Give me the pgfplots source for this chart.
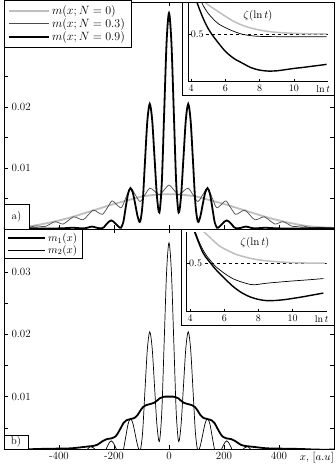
\documentclass[border=0pt]{standalone}
\usepackage{pgfplots}
\pgfplotsset{compat=1.18}
\definecolor{lgray}{gray}{0.75}
\definecolor{mgray}{gray}{0.3}

\pgfplotsset{
  mainax/.style={scale only axis,width=330pt,xmin=-600,xmax=600,
    xtick={-400,-200,0,200,400},scaled y ticks=false,scaled x ticks=false,
    minor ytick={0.005,0.015,0.025,0.035},
    major tick length=4pt,minor tick length=4pt,
    tick style={black,line width=0.5pt},
    axis line style={line width=0.8pt},
    yticklabel style={anchor=west,xshift=4pt,font=\fontsize{11}{13}\selectfont},
    xticklabel style={font=\fontsize{11}{13}\selectfont},
    legend cell align=left,
    legend style={anchor=north west,draw=black,line width=0.6pt}},
  legA/.style={legend image code/.code={\draw[##1] (0pt,0pt) -- (40pt,0pt);},
    legend style={font=\fontsize{12}{14}\selectfont,at={(0,1.008)},
      row sep=-1.5pt,inner xsep=4pt,inner ysep=3pt}},
  legB/.style={legend image code/.code={\draw[##1] (0pt,0pt) -- (37pt,0pt);},
    legend style={font=\fontsize{11}{13}\selectfont,at={(0,1)},
      row sep=-2pt,inner xsep=3pt,inner ysep=2pt}},
  insetax/.style={scale only axis,width=140pt,ymin=0,ymax=0.83,xmax=12,
    axis x line*=bottom,axis y line*=left,axis line style={-,line width=0.7pt},
    xtick={4,6,8,10},ytick={0.5},major tick length=3pt,
    tick style={black,line width=0.5pt},
    extra x ticks={11.7},extra x tick labels={$\ln t$},
    extra x tick style={major tick length=0pt},
    xticklabel style={font=\fontsize{10}{11}\selectfont},
    yticklabel style={anchor=west,xshift=-1pt,font=\fontsize{10}{11}\selectfont}}
}

\begin{document}
\begin{tikzpicture}
\useasboundingbox (0,0) rectangle (336pt,475pt);

% ---------- panel a ----------
\begin{axis}[mainax,legA,at={(4pt,246pt)},anchor=south west,height=227pt,
  ymin=0,ymax=0.0372,xticklabels={},ytick={0.01,0.02},yticklabels={0.01,0.02},
  minor ytick={0.005,0.015,0.025,0.03,0.035}]
\addplot[lgray,line width=1.8pt,smooth] coordinates {
(-600,0.0002) (-550,0.0003) (-500,0.0005) (-450,0.0009) (-400,0.0014) (-350,0.0020)
(-300,0.0027) (-250,0.0034) (-200,0.0041) (-150,0.0047) (-100,0.0053) (-50,0.0056)
(0,0.0057) (50,0.0056) (100,0.0053) (150,0.0047) (200,0.0041) (250,0.0034)
(300,0.0027) (350,0.0020) (400,0.0014) (450,0.0009) (500,0.0005) (550,0.0003) (600,0.0002)};
\addlegendentry{$m(x;N=0)$}
\addplot[mgray,line width=0.7pt,smooth] coordinates {
(-600,0.0001) (-580,0.00015) (-555,0.00025) (-540,0.00025) (-522,0.0002) (-505,0.0003)
(-487,0.0005) (-469,0.00045) (-451,0.0004) (-433,0.0008) (-415,0.0012) (-400,0.0010)
(-385,0.0008) (-366,0.0014) (-347,0.0020) (-330,0.00175) (-312,0.0015) (-294,0.0023)
(-276,0.0031) (-259,0.00275) (-242,0.0024) (-224,0.0035) (-207,0.0046) (-190,0.0040)
(-173,0.0035) (-157,0.0051) (-140,0.0067) (-122.5,0.0056) (-105,0.0045) (-87.5,0.0056)
(-70,0.0067) (-52.5,0.0062) (-35,0.0056) (-17.5,0.0064) (0,0.0072)
(17.5,0.0064) (35,0.0056) (52.5,0.0062) (70,0.0067) (87.5,0.0056) (105,0.0045)
(122.5,0.0056) (140,0.0067) (157,0.0051) (173,0.0035) (190,0.0040) (207,0.0046)
(224,0.0035) (242,0.0024) (259,0.00275) (276,0.0031) (294,0.0023) (312,0.0015)
(330,0.00175) (347,0.0020) (366,0.0014) (385,0.0008) (400,0.0010) (415,0.0012)
(433,0.0008) (451,0.0004) (469,0.00045) (487,0.0005) (505,0.0003) (522,0.0002)
(540,0.00025) (555,0.00025) (580,0.00015) (600,0.0001)};
\addlegendentry{$m(x;N=0.3)$}
\addplot[black,line width=1.8pt,smooth] coordinates {
(-600,0.0001) (-500,0.0001) (-400,0.0001) (-350,0.0002) (-315,0.0001) (-297.5,0.0002)
(-280,0.0004) (-262.5,0.0002) (-245,0.0001) (-236.25,0.0003) (-227.5,0.0008)
(-218.75,0.0012) (-210,0.0014) (-201.25,0.0012) (-192.5,0.0008) (-183.75,0.0004)
(-175,0.0002) (-166.25,0.0011) (-157.5,0.0035) (-148.75,0.0058) (-140,0.0067)
(-131.25,0.0059) (-122.5,0.0040) (-113.75,0.0020) (-105,0.0012) (-96.25,0.0040)
(-87.5,0.0109) (-78.75,0.0177) (-70,0.0205) (-61.25,0.0179) (-52.5,0.0116)
(-43.75,0.0053) (-35,0.0027) (-26.25,0.0075) (-17.5,0.0191) (-8.75,0.0306) (0,0.0354)
(8.75,0.0306) (17.5,0.0191) (26.25,0.0075) (35,0.0027) (43.75,0.0053) (52.5,0.0116)
(61.25,0.0179) (70,0.0205) (78.75,0.0177) (87.5,0.0109) (96.25,0.0040) (105,0.0012)
(113.75,0.0020) (122.5,0.0040) (131.25,0.0059) (140,0.0067) (148.75,0.0058)
(157.5,0.0035) (166.25,0.0011) (175,0.0002) (183.75,0.0004) (192.5,0.0008)
(201.25,0.0012) (210,0.0014) (218.75,0.0012) (227.5,0.0008) (236.25,0.0003)
(245,0.0001) (262.5,0.0002) (280,0.0004) (297.5,0.0002) (315,0.0001) (350,0.0002)
(400,0.0001) (500,0.0001) (600,0.0001)};
\addlegendentry{$m(x;N=0.9)$}
\end{axis}
\draw[line width=0.6pt,fill=white] (4pt,246pt) rectangle (29pt,271pt);
\node[font=\fontsize{11}{13}\selectfont] at (16.5pt,258.5pt) {a)};

% ---------- panel b ----------
\begin{axis}[mainax,legB,at={(4pt,26pt)},anchor=south west,height=220pt,
  ymin=0.0016,ymax=0.0369,xticklabels={-400,-200,0,200,400},
  ytick={0.01,0.02,0.03},yticklabels={0.01,0.02,0.03}]
\addplot[black,line width=1.8pt,smooth] coordinates {
(-600,0.0015) (-540,0.0015) (-480,0.0016) (-420,0.00165) (-360,0.0017) (-335,0.0018)
(-315,0.0019) (-295,0.0020) (-275,0.0021) (-260,0.0023) (-250,0.0026) (-240,0.0029)
(-225,0.0032) (-210,0.0033) (-195,0.0036) (-185,0.0042) (-175,0.0050) (-165,0.0058)
(-155,0.0062) (-140,0.0064) (-125,0.0066) (-115,0.0070) (-105,0.0077) (-95,0.0083)
(-85,0.0086) (-70,0.0088) (-55,0.0090) (-45,0.0093) (-35,0.0097) (-25,0.0099)
(-15,0.0100) (0,0.0100) (15,0.0100) (25,0.0099) (35,0.0097) (45,0.0093) (55,0.0090)
(70,0.0088) (85,0.0086) (95,0.0083) (105,0.0077) (115,0.0070) (125,0.0066) (140,0.0064)
(155,0.0062) (165,0.0058) (175,0.0050) (185,0.0042) (195,0.0036) (210,0.0033)
(225,0.0032) (240,0.0029) (250,0.0026) (260,0.0023) (275,0.0021) (295,0.0020)
(315,0.0019) (335,0.0018) (360,0.0017) (420,0.00165) (480,0.0016) (540,0.0015) (600,0.0015)};
\addlegendentry{$m_1(x)$}
\addplot[black,line width=0.7pt,smooth] coordinates {
(-600,0.0008) (-400,0.0008) (-330,0.0008) (-305,0.0012) (-285,0.0020) (-265,0.0014)
(-245,0.0005) (-236.25,0.0009) (-227.5,0.0017) (-218.75,0.0025) (-210,0.0029)
(-201.25,0.0025) (-192.5,0.0017) (-183.75,0.0009) (-175,0.0005) (-166.25,0.0014)
(-157.5,0.0035) (-148.75,0.0056) (-140,0.0065) (-131.25,0.0057) (-122.5,0.0039)
(-113.75,0.0021) (-105,0.0013) (-96.25,0.0041) (-87.5,0.0109) (-78.75,0.0176)
(-70,0.0204) (-61.25,0.0178) (-52.5,0.0116) (-43.75,0.0054) (-35,0.0028)
(-26.25,0.0075) (-17.5,0.0188) (-8.75,0.0300) (0,0.0347) (8.75,0.0300) (17.5,0.0188)
(26.25,0.0075) (35,0.0028) (43.75,0.0054) (52.5,0.0116) (61.25,0.0178) (70,0.0204)
(78.75,0.0176) (87.5,0.0109) (96.25,0.0041) (105,0.0013) (113.75,0.0021) (122.5,0.0039)
(131.25,0.0057) (140,0.0065) (148.75,0.0056) (157.5,0.0035) (166.25,0.0014) (175,0.0005)
(183.75,0.0009) (192.5,0.0017) (201.25,0.0025) (210,0.0029) (218.75,0.0025)
(227.5,0.0017) (236.25,0.0009) (245,0.0005) (265,0.0014) (285,0.0020) (305,0.0012)
(330,0.0008) (400,0.0008) (600,0.0008)};
\addlegendentry{$m_2(x)$}
\end{axis}
\draw[line width=0.6pt,fill=white] (4pt,26pt) rectangle (28pt,40pt);
\node[font=\fontsize{11}{13}\selectfont] at (16pt,33pt) {b)};
\node[anchor=base east,font=\fontsize{10.5}{12}\selectfont,inner sep=1pt] at (335pt,14pt) {$x$, $[a.u]$};

% ---------- inset a ----------
\draw[line width=0.7pt,fill=white] (182pt,380pt) rectangle (334pt,473pt);
\begin{axis}[insetax,at={(188.3pt,393.3pt)},anchor=south west,height=78.7pt,xmin=3.84]
\addplot[black,dashed,line width=0.6pt] coordinates {(4.9,0.5) (12,0.5)};
\addplot[lgray,line width=1.5pt,smooth] coordinates {
(4.7,0.86) (5,0.81) (5.5,0.75) (6,0.69) (6.5,0.635) (7,0.595) (7.5,0.565) (8,0.545)
(8.5,0.53) (9,0.52) (10,0.51) (11,0.505) (11.9,0.505)};
\addplot[black,line width=0.7pt,smooth] coordinates {
(4.55,0.86) (4.75,0.79) (5,0.72) (5.3,0.66) (5.6,0.61) (6,0.57) (6.5,0.53) (7,0.50)
(7.5,0.485) (8,0.478) (9,0.475) (10,0.475) (11,0.475) (11.9,0.475)};
\addplot[black,line width=1.4pt,smooth] coordinates {
(4.3,0.86) (4.5,0.76) (4.75,0.65) (5,0.56) (5.25,0.49) (5.5,0.43) (6,0.32) (6.5,0.245)
(7,0.195) (7.5,0.148) (8,0.122) (8.5,0.112) (9,0.115) (9.5,0.127) (10,0.14) (10.5,0.15)
(11,0.162) (11.5,0.173) (11.9,0.183)};
\node[font=\fontsize{11}{13}\selectfont] at (axis cs:7.9,0.70) {$\zeta(\ln t)$};
\end{axis}

% ---------- inset b ----------
\draw[line width=0.7pt,fill=white] (181.7pt,150pt) rectangle (334pt,246pt);
\begin{axis}[insetax,at={(186.7pt,163.3pt)},anchor=south west,height=79.7pt,xmin=3.8]
\addplot[black,dashed,line width=0.6pt] coordinates {(4.9,0.5) (12,0.5)};
\addplot[lgray,line width=1.5pt,smooth] coordinates {
(4.64,0.86) (5,0.8) (5.7,0.686) (6,0.655) (6.67,0.598) (7,0.58) (7.6,0.553) (8,0.54)
(8.6,0.528) (9.5,0.515) (10.5,0.508) (11.9,0.505)};
\addplot[black,line width=0.7pt,smooth] coordinates {
(4.25,0.86) (4.5,0.74) (4.75,0.645) (5,0.575) (5.25,0.52) (5.5,0.47) (6,0.4) (6.5,0.345)
(7,0.31) (7.5,0.285) (7.75,0.28) (8,0.285) (8.5,0.297) (9,0.305) (10,0.32) (11,0.333)
(11.8,0.345)};
\addplot[black,line width=1.4pt,smooth] coordinates {
(4.2,0.86) (4.5,0.72) (4.75,0.615) (5,0.55) (5.25,0.495) (5.5,0.44) (6,0.35) (6.5,0.265)
(7,0.2) (7.5,0.155) (8,0.128) (8.5,0.115) (9,0.117) (9.5,0.125) (10,0.138) (10.5,0.152)
(11,0.168) (11.8,0.194)};
\node[font=\fontsize{11}{13}\selectfont] at (axis cs:7.8,0.72) {$\zeta(\ln t)$};
\end{axis}
\end{tikzpicture}
\end{document}
